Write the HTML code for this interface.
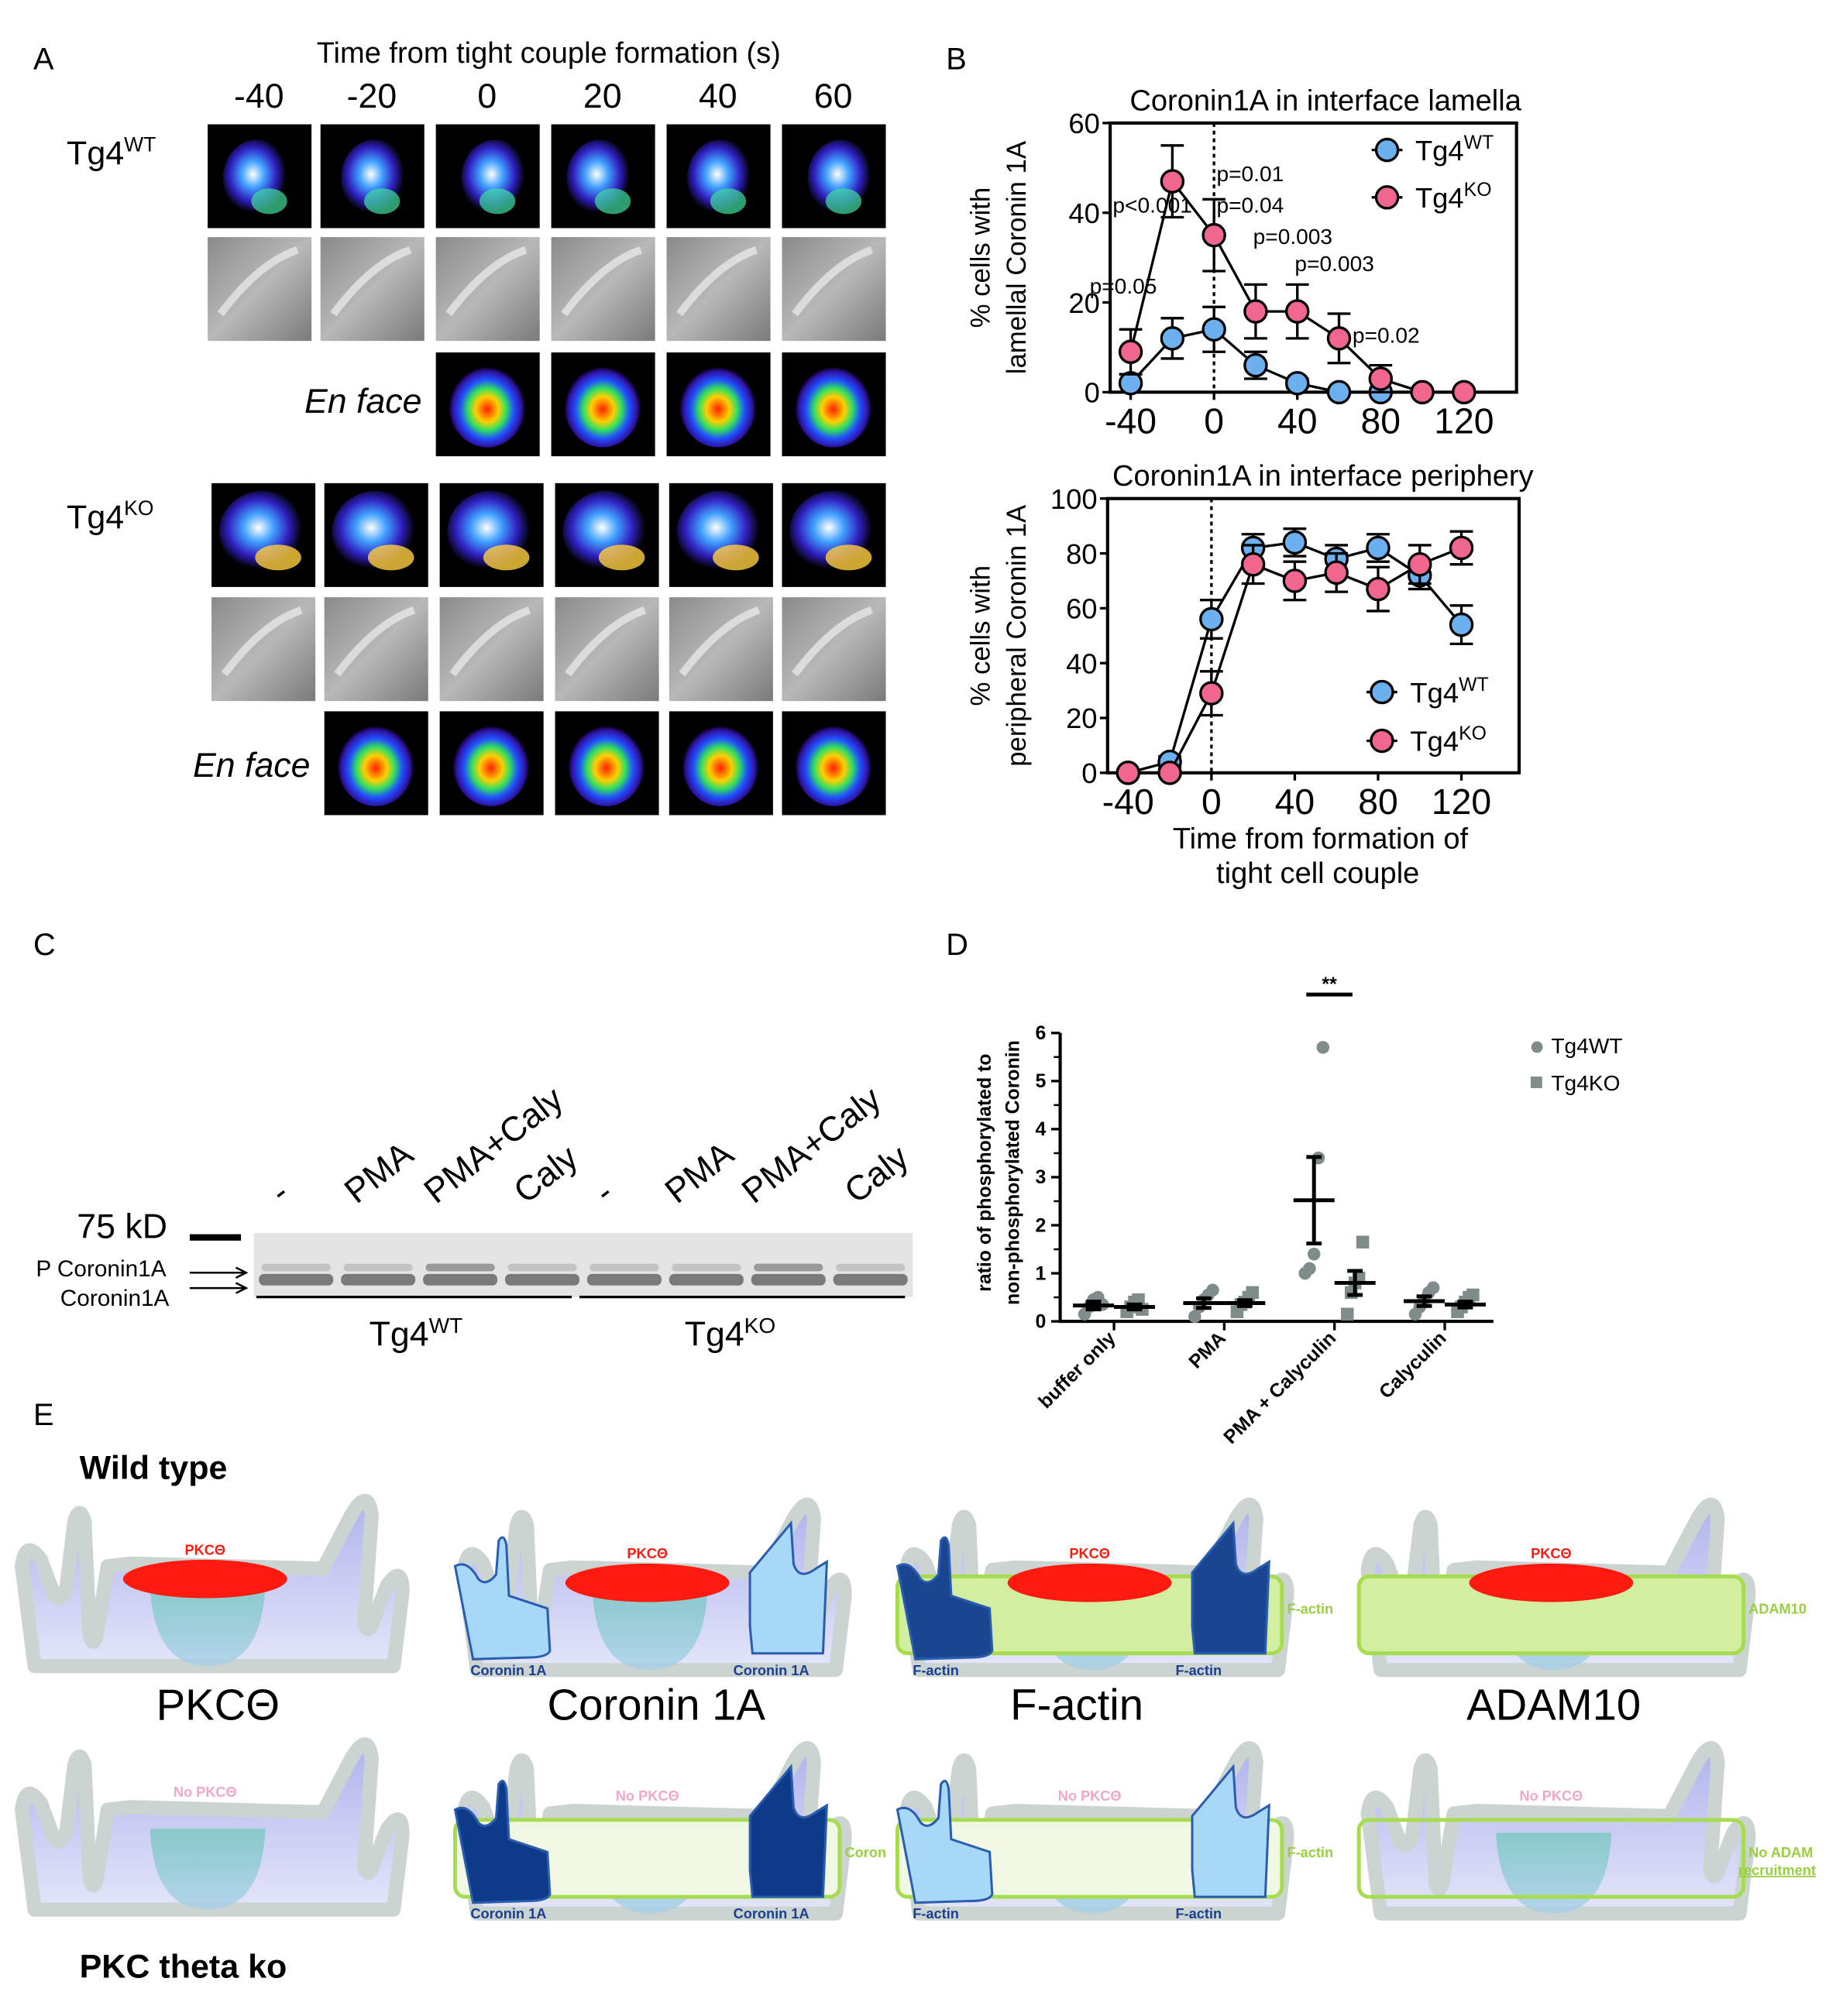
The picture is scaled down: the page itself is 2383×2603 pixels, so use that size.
<!DOCTYPE html>
<html><head><meta charset="utf-8"><style>
html,body{margin:0;padding:0;background:#fff}
svg{display:block;font-family:"Liberation Sans",sans-serif}
</style></head><body>
<svg id="fig" width="2383" height="2603" viewBox="0 0 1440 1573" preserveAspectRatio="none" xmlns="http://www.w3.org/2000/svg">
<defs>
<radialGradient id="heat" cx="50%" cy="55%" r="50%"><stop offset="0" stop-color="#ff2000"/><stop offset="0.3" stop-color="#ffd000"/><stop offset="0.5" stop-color="#30e060"/><stop offset="0.7" stop-color="#2050ff"/><stop offset="0.9" stop-color="#3010a0"/><stop offset="1" stop-color="#000"/></radialGradient>
<radialGradient id="cellb" cx="45%" cy="45%" r="50%"><stop offset="0" stop-color="#ffffff"/><stop offset="0.35" stop-color="#40a0ff"/><stop offset="0.7" stop-color="#3020c0"/><stop offset="1" stop-color="#000"/></radialGradient>
<linearGradient id="dic" x1="0" y1="0" x2="1" y2="1"><stop offset="0" stop-color="#8a8a8a"/><stop offset="0.5" stop-color="#b8b8b8"/><stop offset="1" stop-color="#7a7a7a"/></linearGradient>
<linearGradient id="lav" x1="0" y1="0" x2="0" y2="1"><stop offset="0" stop-color="#b0b4ec"/><stop offset="1" stop-color="#e4e6fa"/></linearGradient>
<linearGradient id="nuc" x1="0" y1="0" x2="0" y2="1"><stop offset="0" stop-color="#78c8c0"/><stop offset="1" stop-color="#a8d0e8"/></linearGradient>
</defs>
<g id="panelA"></g>
<g id="panelB"></g>
<g id="panelC"></g>
<g id="panelD"></g>
<g id="panelE"></g>
</svg>
<script>
// ---- Panel B data ----
const timesTop=[-40,-20,0,20,40,60,80,100,120];
const wtTop=[2,12,14,6,2,0,0];
const wtTopErr=[2,4.5,5,3,1,0,0];
const koTop=[9,47,35,18,18,12,3,0,0];
const koTopErr=[5,8,8,6,6,5.5,3,0,0];
const pLabels=["p=0.05","p<0.001","p=0.01","p=0.04","p=0.003","p=0.003","p=0.02"];
const timesBot=[-40,-20,0,20,40,60,80,100,120];
const wtBot=[0,4,56,82,84,78,82,72,54];
const wtBotErr=[0,2,7,5,5,5,5,5,7];
const koBot=[0,0,29,76,70,73,67,76,82];
const koBotErr=[0,0,8,7,7,7,8,7,6];
const xTicks=[-40,0,40,80,120];
const yTicksTop=[0,20,40,60];
const yTicksBot=[0,20,40,60,80,100];
// ---- Panel D data ----
const dCats=["buffer only","PMA","PMA + Calyculin","Calyculin"];
const dWtPts=[[0.15,0.3,0.45,0.5,0.35],[0.1,0.3,0.45,0.55,0.65],[1.0,1.1,1.4,3.4,5.7],[0.15,0.3,0.45,0.6,0.7]];
const dKoPts=[[0.2,0.3,0.4,0.45,0.25],[0.2,0.35,0.4,0.5,0.6],[0.15,0.6,0.8,0.9,1.65],[0.2,0.3,0.4,0.5,0.55]];
const dWtMean=[0.33,0.38,2.52,0.42];
const dWtSem=[0.08,0.1,0.9,0.1];
const dKoMean=[0.3,0.38,0.8,0.35];
const dKoSem=[0.05,0.06,0.25,0.06];
const dYTicks=[0,1,2,3,4,5,6];

const NS="http://www.w3.org/2000/svg";
function mk(tag,attrs,parent,text){const e=document.createElementNS(NS,tag);for(const k in attrs)e.setAttribute(k,attrs[k]);if(text!==undefined)e.textContent=text;parent.appendChild(e);return e;}

// ---------- Panel A ----------
const A=document.getElementById('panelA');
let t=mk('text',{x:26,y:54,'font-size':24},A,'A');

t=mk('text',{x:428,y:49,'font-size':23,'text-anchor':'middle'},A,'Time from tight couple formation (s)');

const colX=[162,250,340,430,520,610];
const colLab=["-40","-20","0","20","40","60"];
colX.forEach((x,i)=>{const tt=mk('text',{x:x+40,y:84,'font-size':27,'text-anchor':'middle'},A,colLab[i]);
});
function fluo(x,y,kind,seed){const g=mk('g',{},A);

mk('rect',{x:x,y:y,width:81,height:81,fill:kind==='dic'?'url(#dic)':'#000'},g);
if(kind==='cell'){mk('ellipse',{cx:x+38+(seed%3)*4,cy:y+42,rx:26,ry:30,fill:'url(#cellb)'},g);mk('ellipse',{cx:x+48,cy:y+60,rx:14,ry:10,fill:'#40e0a0',opacity:0.7},g);}
if(kind==='cell2'){mk('ellipse',{cx:x+40,cy:y+38,rx:34,ry:32,fill:'url(#cellb)'},g);mk('ellipse',{cx:x+52,cy:y+58,rx:18,ry:10,fill:'#ffd040',opacity:0.8},g);}
if(kind==='en'){mk('ellipse',{cx:x+40,cy:y+41,rx:30,ry:33,fill:'url(#heat)'},g);}
if(kind==='dic'){mk('path',{d:`M${x+10},${y+60} Q${x+40},${y+20} ${x+70},${y+10}`,stroke:'#eee','stroke-width':6,fill:'none',opacity:0.7},g);}
}
colX.forEach((x,i)=>{fluo(x,97,'cell',i);fluo(x,185,'dic',i);if(i>=2)fluo(x,275,'en',i);});
[165,253,343,433,522,610].forEach((x,i)=>{fluo(x,377,'cell2',i);fluo(x,466,'dic',i);if(i>=1)fluo(x,555,'en',i);});
function rowLab(x,y,main,sup){const tt=mk('text',{x:x,y:y,'font-size':26},A);
mk('tspan',{},tt,main);mk('tspan',{dy:-10,'font-size':16},tt,sup);}
rowLab(52,128,'Tg4','WT');rowLab(52,412,'Tg4','KO');
t=mk('text',{x:329,y:322,'font-size':27,'font-style':'italic','text-anchor':'end'},A,'En face');
t=mk('text',{x:242,y:606,'font-size':27,'font-style':'italic','text-anchor':'end'},A,'En face');

// ---------- Panel B ----------
const B=document.getElementById('panelB');
t=mk('text',{x:738,y:54,'font-size':24},B,'B');
function chart(cfg){
 const g=mk('g',{},B);
 const sx=v=>cfg.x0+(v-cfg.xmin)*cfg.kx, sy=v=>cfg.yb-(v/cfg.ymax)*(cfg.yb-cfg.yt);
 let r=mk('rect',{x:cfg.fl,y:cfg.yt,width:cfg.fr-cfg.fl,height:cfg.yb-cfg.yt,fill:'none',stroke:'#000','stroke-width':2.5},g);
 
 let z=mk('line',{x1:sx(0),x2:sx(0),y1:cfg.yt,y2:cfg.yb,stroke:'#000','stroke-width':2,'stroke-dasharray':'3,3'},g);
 
 cfg.yt_.forEach(v=>{mk('line',{x1:cfg.fl-6,x2:cfg.fl,y1:sy(v),y2:sy(v),stroke:'#000','stroke-width':2},g);
  const l=mk('text',{x:cfg.fl-8,y:sy(v)+8,'font-size':22,'text-anchor':'end'},g,String(v));});
 xTicks.forEach(v=>{mk('line',{x1:sx(v),x2:sx(v),y1:cfg.yb,y2:cfg.yb+6,stroke:'#000','stroke-width':2},g);
  const l=mk('text',{x:sx(v),y:cfg.yb+32,'font-size':28,'text-anchor':'middle'},g,String(v));});
 const tt=mk('text',{x:cfg.tx,y:cfg.yt-10,'font-size':23,'text-anchor':'middle'},g,cfg.title);
 const yl=mk('text',{transform:`translate(${cfg.ylx},${(cfg.yt+cfg.yb)/2}) rotate(-90)`,'font-size':21,'text-anchor':'middle'},g);
 
 mk('tspan',{x:0,y:0},yl,cfg.yl1);mk('tspan',{x:0,y:28},yl,cfg.yl2);
 function series(vals,errs,times,col,nm){
  const sg=mk('g',{},g);
  const pts=vals.map((v,i)=>sx(times[i])+','+sy(v)).join(' ');
  mk('polyline',{points:pts,fill:'none',stroke:'#000','stroke-width':2},sg);
  vals.forEach((v,i)=>{const x=sx(times[i]),e=errs[i];if(e>0){mk('path',{d:`M${x},${sy(v-e)}V${sy(v+e)}M${x-9},${sy(v+e)}H${x+9}M${x-9},${sy(v-e)}H${x+9}`,stroke:'#000','stroke-width':2,fill:'none'},sg);}});
  vals.forEach((v,i)=>{const c=mk('circle',{cx:sx(times[i]),cy:sy(v),r:8.5,fill:col,stroke:'#000','stroke-width':2},sg);});
 }
 series(cfg.wt,cfg.wte,timesTop,'#6cb0f0','series-wt');
 series(cfg.ko,cfg.koe,timesTop,'#f0668e','series-ko');
 [['WT','#6cb0f0',0],['KO','#f0668e',1]].forEach(([s,c,i])=>{const lg=mk('g',{},g);
  const y=cfg.legY+i*cfg.legDy;mk('line',{x1:cfg.legX-12,x2:cfg.legX+12,y1:y,y2:y,stroke:'#000','stroke-width':2},lg);
  mk('circle',{cx:cfg.legX,cy:y,r:8.5,fill:c,stroke:'#000','stroke-width':2},lg);
  const lt=mk('text',{x:cfg.legX+22,y:y+8,'font-size':22},lg);mk('tspan',{},lt,'Tg4');mk('tspan',{dy:-9,'font-size':15},lt,s);});
 return {sx,sy,g};
}
const c1=chart({name:'lamella-chart',xmin:-40,x0:882,kx:65/40,yt:96,yb:306,ymax:60,fl:866,fr:1183,yt_:yTicksTop,tx:1034,title:'Coronin1A in interface lamella',ylx:772,yl1:'% cells with',yl2:'lamellal Coronin 1A',wt:wtTop,wte:wtTopErr,ko:koTop,koe:koTopErr,legX:1082,legY:117,legDy:37});
const pPos=[[-40,22],[-40,40],[0,47],[0,40],[20,33],[40,27],[80,11]];
pPos.forEach((p,i)=>{const l=mk('text',{x:c1.sx(p[0])+[-32,-14,2,2,-2,-2,-22][i],y:c1.sy(p[1]),'font-size':17},c1.g,pLabels[i]);});
chart({name:'periphery-chart',xmin:-40,x0:880,kx:65/40,yt:389,yb:603,ymax:100,fl:864,fr:1185,yt_:yTicksBot,tx:1032,title:'Coronin1A in interface periphery',ylx:772,yl1:'% cells with',yl2:'peripheral Coronin 1A',wt:wtBot,wte:wtBotErr,ko:koBot,koe:koBotErr,legX:1078,legY:540,legDy:38});
t=mk('text',{x:1030,y:662,'font-size':23,'text-anchor':'middle'},B,'Time from formation of');
t=mk('text',{x:1028,y:689,'font-size':23,'text-anchor':'middle'},B,'tight cell couple');

// ---------- Panel C ----------
const C=document.getElementById('panelC');
t=mk('text',{x:26,y:745,'font-size':24},C,'C');
const lanes=["-","PMA","PMA+Caly","Caly","-","PMA","PMA+Caly","Caly"];
const laneX=[232,290,352,422,485,540,600,680];
lanes.forEach((s,i)=>{const l=mk('text',{transform:`translate(${laneX[i]-12},${940}) rotate(-38)`,'font-size':27},C,s);});
let blot=mk('rect',{x:198,y:962,width:514,height:50,fill:'#e4e4e4'},C);
for(let i=0;i<8;i++){const x=200+i*64;mk('rect',{x:x+2,y:994,width:58,height:9,rx:4,fill:'#7a7a7a'},C);mk('rect',{x:x+4,y:986,width:54,height:6,rx:3,fill:i===2||i===6?'#9a9a9a':'#c4c4c4'},C);}
mk('line',{x1:200,x2:446,y1:1012,y2:1012,stroke:'#000','stroke-width':2},C);mk('line',{x1:452,x2:706,y1:1012,y2:1012,stroke:'#000','stroke-width':2},C);
mk('rect',{x:148,y:963,width:40,height:5,fill:'#000'},C);
t=mk('text',{x:60,y:966,'font-size':27},C,'75 kD');
t=mk('text',{x:28,y:996,'font-size':18},C,'P Coronin1A');
t=mk('text',{x:47,y:1019,'font-size':18},C,'Coronin1A');
mk('path',{d:'M148,993H190M184,989L192,993L184,997M148,1005H190M184,1001L192,1005L184,1009',stroke:'#000','stroke-width':1.5,fill:'none'},C);
[[288,'WT'],[534,'KO']].forEach(([x,s])=>{const l=mk('text',{x:x,y:1050,'font-size':27},C);mk('tspan',{},l,'Tg4');mk('tspan',{dy:-10,'font-size':17},l,s);});

// ---------- Panel D ----------
const D=document.getElementById('panelD');
t=mk('text',{x:738,y:745,'font-size':24},D,'D');
const dx=i=>869+i*86, dy=v=>1031-v*37.5;
mk('path',{d:`M827,${dy(6)}V1031H1165`,stroke:'#000','stroke-width':2.5,fill:'none'},D);
dYTicks.forEach(v=>{mk('line',{x1:820,x2:827,y1:dy(v),y2:dy(v),stroke:'#000','stroke-width':2},D);mk('line',{x1:822,x2:827,y1:dy(v+0.5),y2:dy(v+0.5),stroke:'#000','stroke-width':1.5,opacity:v<6?1:0},D);
 const l=mk('text',{x:816,y:dy(v)+5,'font-size':15,'font-weight':'bold','text-anchor':'end'},D,String(v));});
dCats.forEach((c,i)=>{mk('line',{x1:dx(i),x2:dx(i),y1:1031,y2:1038,stroke:'#000','stroke-width':2},D);
 const l=mk('text',{transform:`translate(${dx(i)+2},${1045}) rotate(-45)`,'font-size':15,'font-weight':'bold','text-anchor':'end'},D,c);
 dWtPts[i].forEach((v,j)=>{const p=mk('circle',{cx:dx(i)-16+(j-2)*3.5,cy:dy(v),r:5,fill:'#7f8c8a'},D);});
 dKoPts[i].forEach((v,j)=>{const p=mk('rect',{x:dx(i)+16-5+(j-2)*3,y:dy(v)-5,width:10,height:10,fill:'#7f8c8a'},D);});
 [[dx(i)-16,dWtMean[i],dWtSem[i]],[dx(i)+16,dKoMean[i],dKoSem[i]]].forEach(([x,m,s])=>{mk('path',{d:`M${x-16},${dy(m)}H${x+16}M${x},${dy(m-s)}V${dy(m+s)}M${x-6},${dy(m-s)}H${x+6}M${x-6},${dy(m+s)}H${x+6}`,stroke:'#000','stroke-width':3,fill:'none'},D);});
});
const yl=mk('text',{transform:'translate(773,915) rotate(-90)','font-size':15,'font-weight':'bold','text-anchor':'middle'},D);
mk('tspan',{x:0,y:0},yl,'ratio of phosphorylated to');mk('tspan',{x:0,y:22},yl,'non-phosphorylated Coronin');
mk('line',{x1:1019,x2:1055,y1:776,y2:776,stroke:'#000','stroke-width':3},D);
t=mk('text',{x:1037,y:773,'font-size':15,'font-weight':'bold','text-anchor':'middle'},D,'**');
let lg=mk('g',{},D);
mk('circle',{cx:1199,cy:817,r:4.5,fill:'#7f8c8a'},lg);mk('text',{x:1210,y:822,'font-size':17},lg,'Tg4WT');
lg=mk('g',{},D);
mk('rect',{x:1194,y:840,width:9,height:9,fill:'#7f8c8a'},lg);mk('text',{x:1210,y:851,'font-size':17},lg,'Tg4KO');

// ---------- Panel E ----------
const E=document.getElementById('panelE');
t=mk('text',{x:26,y:1112,'font-size':24},E,'E');
t=mk('text',{x:62,y:1154,'font-size':26,'font-weight':'bold'},E,'Wild type');
t=mk('text',{x:62,y:1543,'font-size':26,'font-weight':'bold'},E,'PKC theta ko');
const bodyPath='M25,118 L15,40 Q18,18 30,35 L40,62 Q46,70 50,55 L56,5 Q60,-8 64,5 L68,95 Q72,105 74,90 L82,40 L100,38 L250,42 L272,0 Q285,-22 288,0 L282,85 Q286,95 290,80 L300,55 Q312,38 312,60 L305,118 Z';
const cols=[10,345,690,1050];
const heads=["PKCΘ","Coronin 1A","F-actin","ADAM10"];
const headX=[170,512,840,1212];
function cell(ox,oy,opts){
 const g=mk('g',{transform:`translate(${ox},${oy})`},E);
 mk('path',{d:bodyPath,fill:'url(#lav)',stroke:'#ccd4d2','stroke-width':11,'stroke-linejoin':'round'},g);
 mk('path',{d:'M115,55 Q118,118 160,118 Q202,118 205,55 Z',fill:'url(#nuc)',opacity:0.8},g);
 if(opts.green)mk('rect',{x:8,y:45,width:300,height:60,rx:8,fill:opts.green,stroke:'#a8dc50','stroke-width':3},g);
 if(opts.red){mk('ellipse',{cx:158,cy:50,rx:64,ry:15,fill:'#ff1a10'},g);}
 const pt=mk('text',{x:158,y:opts.red?31:30,'font-size':11,'font-weight':'bold','text-anchor':'middle',fill:opts.red?'#ff1a10':'#f0a8c8'},g,opts.red?'PKCΘ':'No PKCΘ');
 if(opts.fing){mk('path',{d:'M8,50 Q18,42 26,65 Q32,75 40,60 L42,20 Q46,10 48,25 L50,85 L80,100 L82,150 Q80,158 65,158 L22,160 Z',transform:'translate(0,4) scale(1,0.66)',fill:opts.fing[0],stroke:'#2a5db0','stroke-width':3,'vector-effect':'non-scaling-stroke'},g);
  mk('path',{d:'M238,60 L270,5 L272,50 Q276,70 290,55 L298,48 L295,150 L240,150 L238,120 Z',transform:'translate(0,0) scale(1,0.7)',fill:opts.fing[1],stroke:'#2a5db0','stroke-width':3,'vector-effect':'non-scaling-stroke'},g);
  [[20,opts.lab],[225,opts.lab]].forEach(([x,s])=>{const l=mk('text',{x:x,y:122,'font-size':11,'font-weight':'bold',fill:'#1a3f90'},g,s);});}
 if(opts.side){const l=mk('text',{x:opts.sideX||312,y:74,'font-size':11,'font-weight':'bold',fill:'#98d040'},g,opts.side);}
 return g;
}
cell(cols[0]-8,1182,{red:true});
cell(cols[1]+2,1185,{red:true,fing:['#a8d8f8','#a8d8f8'],lab:'Coronin 1A'});
cell(cols[2]+2,1185,{red:true,green:'#d2eea0',fing:['#1a4590','#1a4590'],lab:'F-actin',side:'F-actin'});
cell(cols[3]+2,1185,{red:true,green:'#d2eea0',side:'ADAM10'});
cell(cols[0]-8,1372,{});
cell(cols[1]+2,1375,{green:'#f0f8e4',fing:['#0e3a8a','#0e3a8a'],lab:'Coronin 1A',side:'Coron'});
cell(cols[2]+2,1375,{green:'#f0f8e4',fing:['#a8d8f8','#a8d8f8'],lab:'F-actin',side:'F-actin'});
const last=cell(cols[3]+2,1375,{green:'none',side:'No ADAM'});
let rl=mk('text',{x:304,y:88,'font-size':11,'font-weight':'bold',fill:'#98d040','text-decoration':'underline'},last,'recruitment');
heads.forEach((h,i)=>{const l=mk('text',{x:headX[i],y:1342,'font-size':34,'text-anchor':'middle'},E,h);});
</script>
</body></html>
